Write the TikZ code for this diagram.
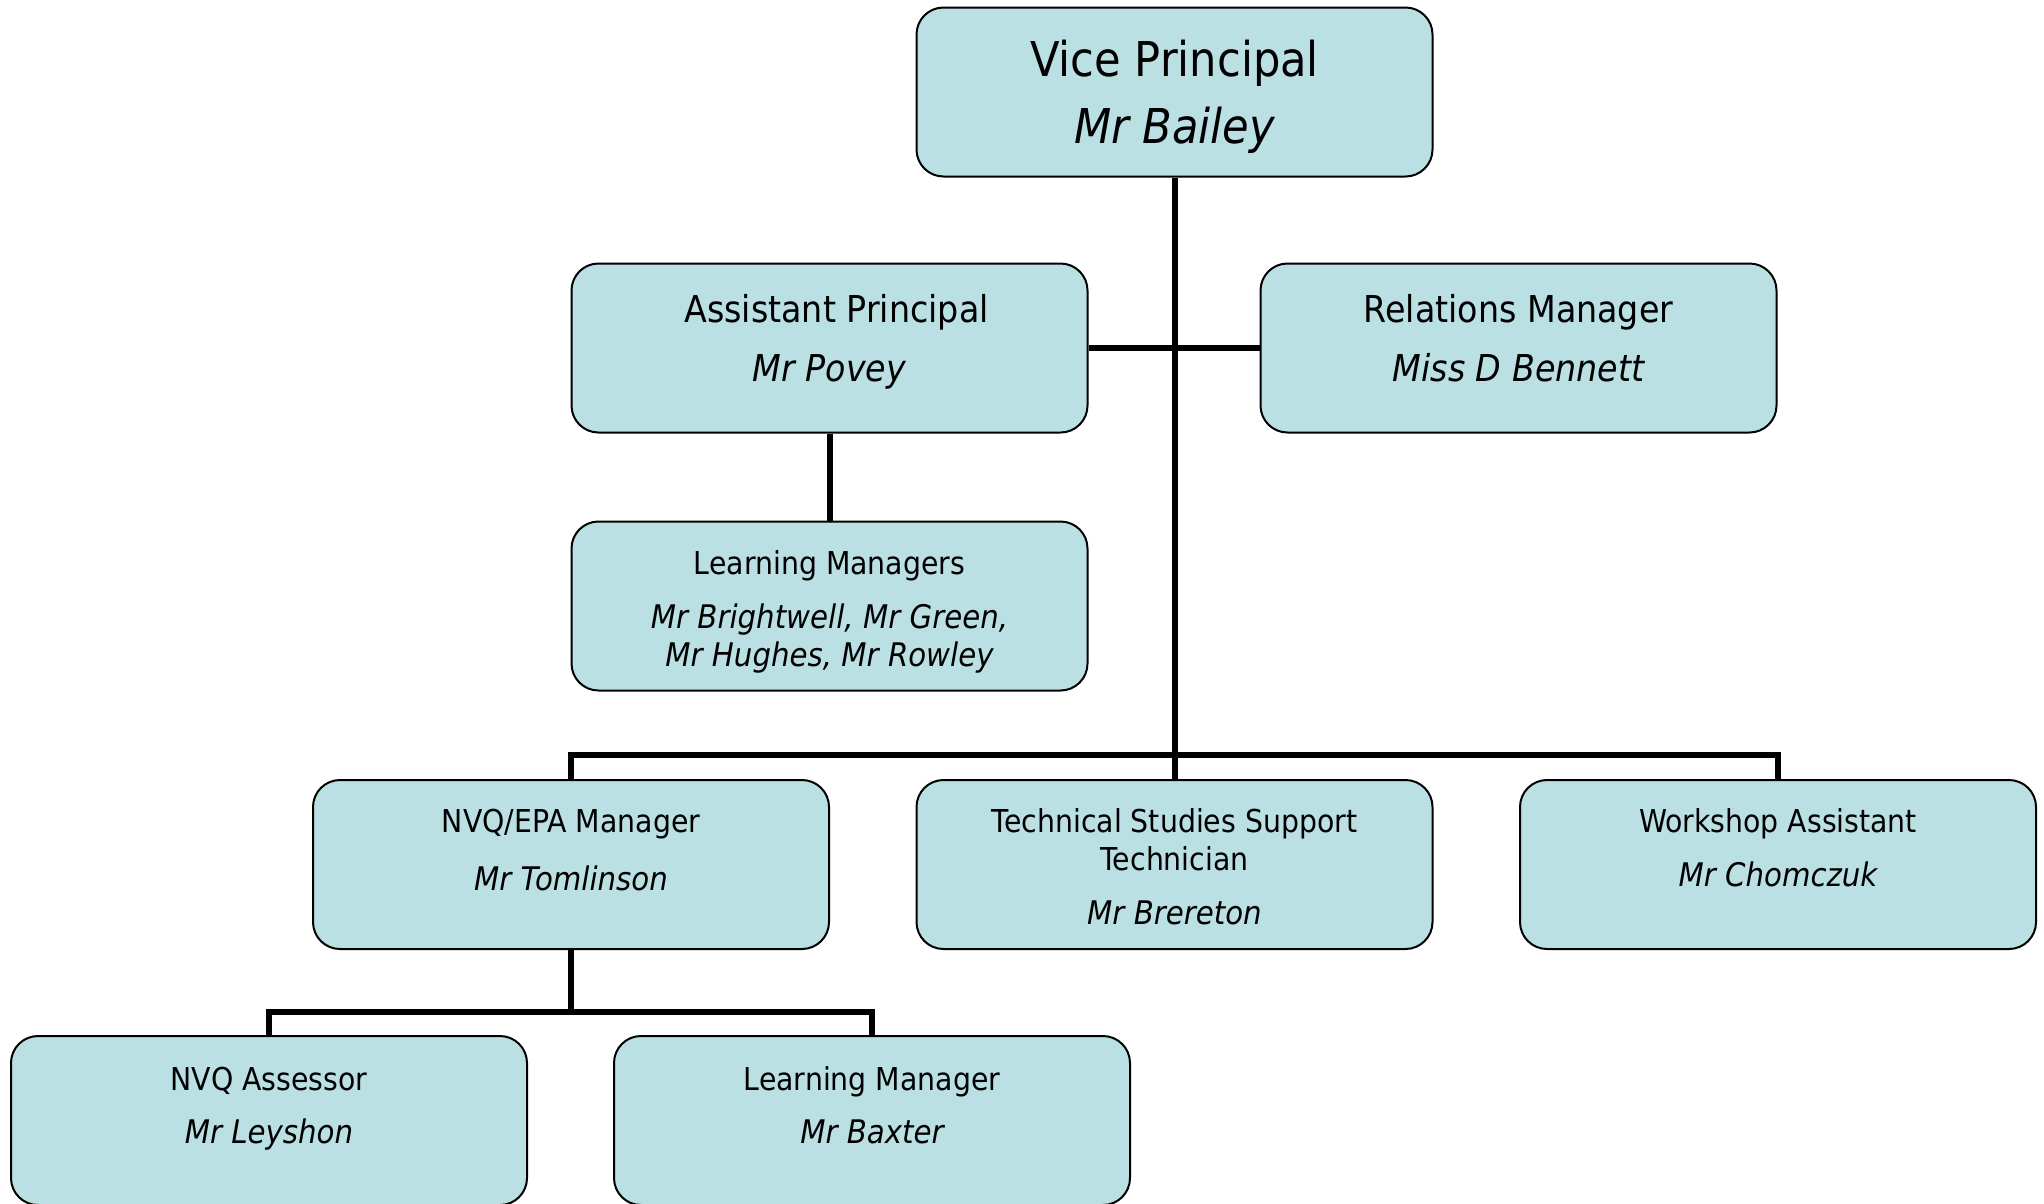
\documentclass[tikz,border=0pt]{standalone}
\usepackage{fontspec}
\setmainfont{DejaVu Sans}[FakeStretch=0.9]
\usetikzlibrary{backgrounds}
\definecolor{boxfill}{RGB}{186,224,227}
\tikzset{
  box/.style={draw=black, line width=2pt, fill=boxfill, rounded corners=27pt,
    minimum width=516pt, minimum height=169pt, inner sep=0pt},
  conn/.style={draw=black, line width=6pt, line join=miter},
  bigt/.style={anchor=base, inner sep=0pt, font=\fontsize{48}{56}\selectfont},
  bign/.style={anchor=base, inner sep=0pt, font=\fontsize{48}{56}\selectfont\itshape},
  midt/.style={anchor=base, inner sep=0pt, font=\fontsize{37}{44}\selectfont},
  midn/.style={anchor=base, inner sep=0pt, font=\fontsize{37}{44}\selectfont\itshape},
  smt/.style={anchor=base, inner sep=0pt, font=\fontsize{31.5}{38}\selectfont},
  smn/.style={anchor=base, inner sep=0pt, font=\fontsize{32.5}{38}\selectfont\itshape},
}
\begin{document}
\begin{tikzpicture}[x=1pt,y=-1pt]
\path[use as bounding box] (0,0) rectangle (2044,1203);
\clip (0,0) rectangle (2044,1203);
% boxes
\node[box] (vp)   at (1174.5,92)   {};
\node[box] (ap)   at (829.5,348)   {};
\node[box] (rm)   at (1518.5,348)  {};
\node[box] (lm)   at (829.5,606)   {};
\node[box] (nvq)  at (571,864.5)   {};
\node[box] (tss)  at (1174.5,864.5){};
\node[box] (wa)   at (1778,864.5)  {};
\node[box] (na)   at (269,1120.5)  {};
\node[box] (lmg)  at (872,1120.5)  {};
% texts
\node[bigt] (vpt) at (1174.5,76)  {Vice Principal};
\node[bign] (vpn) at (1174.5,143) {Mr Bailey};
\node[midt] (apt) at (836.5,322)  {Assistant Principal};
\node[midn] (apn) at (829.5,381)  {Mr Povey};
\node[midt] (rmt) at (1518.5,322) {Relations Manager};
\node[midn] (rmn) at (1518.5,381) {Miss D Bennett};
\node[smt] (lmt)  at (829.5,574)  {Learning Managers};
\node[smn] (lmn1) at (829.5,628)  {Mr Brightwell, Mr Green,};
\node[smn] (lmn2) at (829.5,666)  {Mr Hughes, Mr Rowley};
\node[smt] (nvqt) at (571,832)    {NVQ/EPA Manager};
\node[smn] (nvqn) at (571,890)    {Mr Tomlinson};
\node[smt] (tst1) at (1174.5,832) {Technical Studies Support};
\node[smt] (tst2) at (1174.5,870) {Technician};
\node[smn] (tssn) at (1174.5,924) {Mr Brereton};
\node[smt] (wat)  at (1778,832)   {Workshop Assistant};
\node[smn] (wan)  at (1778,886)   {Mr Chomczuk};
\node[smt] (nat)  at (269,1090)   {NVQ Assessor};
\node[smn] (nan)  at (269,1143)   {Mr Leyshon};
\node[smt] (lmgt) at (872,1090)   {Learning Manager};
\node[smn] (lmgn) at (872,1143)   {Mr Baxter};
% connectors
\coordinate (b1) at (1174.5,755);
\coordinate (b2) at (571,1012);
\begin{pgfonlayer}{background}
\draw[conn] (vp.south) -- (tss.north);
\draw[conn] (ap.east) -- (rm.west);
\draw[conn] (ap.south) -- (lm.north);
\draw[conn] (nvq.north) -- (nvq.north |- b1) -- (wa.north |- b1) -- (wa.north);
\draw[conn] (nvq.south) -- (b2);
\draw[conn] (na.north) -- (na.north |- b2) -- (lmg.north |- b2) -- (lmg.north);
\end{pgfonlayer}
\end{tikzpicture}
\end{document}
